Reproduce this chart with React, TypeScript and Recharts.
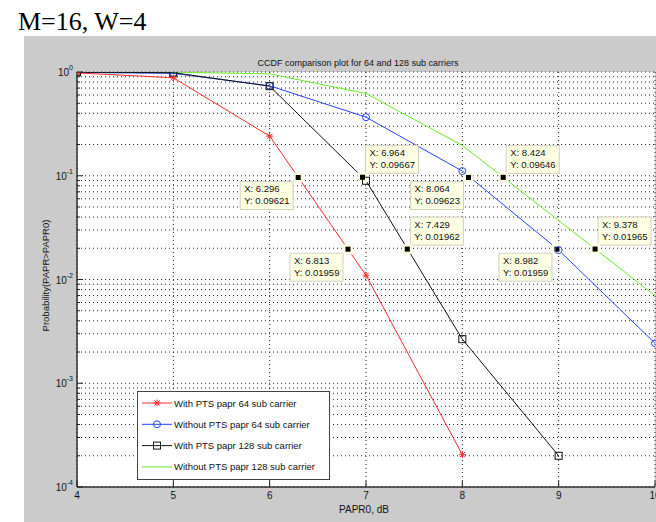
import React from "react"
import { LineChart, Line, XAxis, YAxis, CartesianGrid, ReferenceDot, Legend } from "recharts"

// PAPR0 in dB (x axis)
const papr0 = [4, 5, 6, 7, 8, 9, 10]
// CCDF values (null = no point)
const withPts64 = [0.98, 0.88, 0.241, 0.011, 0.000205, null, null]
const withoutPts64 = [0.99, 0.97, 0.736, 0.367, 0.111, 0.0192, 0.00243]
const withPts128 = [0.995, 0.985, 0.73, 0.0895, 0.00266, 0.0002, null]
const withoutPts128 = [1.0, 0.995, 0.96, 0.62, 0.196, 0.037, 0.007]

const seriesNames = [
  "With PTS papr 64 sub carrier",
  "Without PTS papr 64 sub carrier",
  "With PTS papr 128 sub carrier",
  "Without PTS papr 128 sub carrier",
]

const xTicks = [4, 5, 6, 7, 8, 9, 10]
const yTicks = [
  1e-4, 2e-4, 3e-4, 4e-4, 5e-4, 6e-4, 7e-4, 8e-4, 9e-4,
  1e-3, 2e-3, 3e-3, 4e-3, 5e-3, 6e-3, 7e-3, 8e-3, 9e-3,
  1e-2, 2e-2, 3e-2, 4e-2, 5e-2, 6e-2, 7e-2, 8e-2, 9e-2,
  1e-1, 2e-1, 3e-1, 4e-1, 5e-1, 6e-1, 7e-1, 8e-1, 9e-1,
  1,
]

// data tips shown on the plot
const tipX = [6.296, 6.964, 8.064, 7.429, 6.813, 8.424, 8.982, 9.378]
const tipY = [0.09621, 0.09667, 0.09623, 0.01962, 0.01959, 0.09646, 0.01959, 0.01965]
const tipXText = ["6.296", "6.964", "8.064", "7.429", "6.813", "8.424", "8.982", "9.378"]
const tipYText = ["0.09621", "0.09667", "0.09623", "0.01962", "0.01959", "0.09646", "0.01959", "0.01965"]
// where the box sits relative to its marker
const tipSide = ["bl", "ar", "bl", "ar", "bl", "ar", "bl", "ar"]

const chartData = papr0.map((x, i) => ({
  x,
  a: withPts64[i],
  b: withoutPts64[i],
  c: withPts128[i],
  d: withoutPts128[i],
}))

const FONT = '"Liberation Sans", Arial, sans-serif'
const RED = "#ff2a2a"
const BLUE = "#2244ff"
const BLACK = "#111111"
const GREEN = "#66ee22"

const Star = ({ cx, cy, color }: any) => {
  const s = 3.5
  return (
    <g stroke={color} strokeWidth={1}>
      <line x1={cx - s} y1={cy} x2={cx + s} y2={cy} />
      <line x1={cx} y1={cy - s} x2={cx} y2={cy + s} />
      <line x1={cx - s * 0.75} y1={cy - s * 0.75} x2={cx + s * 0.75} y2={cy + s * 0.75} />
      <line x1={cx - s * 0.75} y1={cy + s * 0.75} x2={cx + s * 0.75} y2={cy - s * 0.75} />
    </g>
  )
}

const Circ = ({ cx, cy, color }: any) => <circle cx={cx} cy={cy} r={3.5} fill="none" stroke={color} strokeWidth={1} />

const Sq = ({ cx, cy, color }: any) => (
  <rect x={cx - 3.5} y={cy - 3.5} width={7} height={7} fill="none" stroke={color} strokeWidth={1} />
)

const dotFn = (Comp: any, color: string) => (p: any) => {
  if (p.value == null || p.cy == null) return <g key={p.key ?? p.index} />
  return <Comp key={p.key ?? p.index} cx={p.cx} cy={p.cy} color={color} />
}

const YTick = (props: any) => {
  const { x, y, payload } = props
  const v = payload.value
  const lg = Math.log10(v)
  const exp = Math.round(lg)
  const major = Math.abs(lg - exp) < 1e-6
  const ax = x + 3
  return (
    <g>
      <line x1={ax} x2={ax + (major ? 6 : 3)} y1={y} y2={y} stroke="#222" />
      {major && (
        <text x={x - 1} y={y + 4} textAnchor="end" fontSize={10} fontFamily={FONT} fill="#111">
          <tspan>10</tspan>
          <tspan dy={-6} fontSize={7}>{exp}</tspan>
        </text>
      )}
    </g>
  )
}

const XTick = (props: any) => {
  const { x, y, payload } = props
  return (
    <g>
      <line x1={x} x2={x} y1={y} y2={y - 6} stroke="#222" />
      <text x={x} y={y + 12} textAnchor="middle" fontSize={10} fontFamily={FONT} fill="#111">
        {payload.value}
      </text>
    </g>
  )
}

const TipShape = ({ cx, cy, i }: any) => {
  const w = 53
  const h = 28
  const bx = tipSide[i] === "bl" ? cx - 5 - w : cx + 3
  const by = tipSide[i] === "bl" ? cy + 4 : cy - 4 - h
  return (
    <g>
      <rect x={bx} y={by} width={w} height={h} fill="#ffffe3" stroke="#cfcfc4" strokeWidth={1} />
      <text x={bx + 4} y={by + 11} fontSize={9.5} fontFamily={FONT} fill="#111">
        X: {tipXText[i]}
      </text>
      <text x={bx + 4} y={by + 23} fontSize={9.5} fontFamily={FONT} fill="#111">
        Y: {tipYText[i]}
      </text>
      <rect x={cx - 5} y={cy - 5} width={10} height={10} fill="#fbfbe0" />
      <rect x={cx - 2.5} y={cy - 2.5} width={5} height={5} fill="#000" />
    </g>
  )
}

const markers = [Star, Circ, Sq, null]
const colors = [RED, BLUE, BLACK, GREEN]

const LegendBox = () => (
  <svg width={193} height={89} style={{ display: "block" }}>
    <rect x={0.5} y={0.5} width={192} height={88} fill="#fff" stroke="#444" strokeWidth={1} />
    {seriesNames.map((name, i) => {
      const cy = 12 + i * 21.3
      const M = markers[i]
      return (
        <g key={name}>
          <line x1={5} x2={35} y1={cy} y2={cy} stroke={colors[i]} strokeWidth={1} />
          {M && <M cx={20} cy={cy} color={colors[i]} />}
          <text x={37} y={cy + 3.5} fontSize={9.5} fontFamily={FONT} fill="#111">
            {name}
          </text>
        </g>
      )
    })}
  </svg>
)

export default function App() {
  return (
    <div
      style={{
        position: "absolute",
        left: 0,
        top: 0,
        width: 656,
        height: 522,
        overflow: "hidden",
        background: "#fff",
      }}
    >
      <svg width={656} height={36} style={{ position: "absolute", left: 0, top: 0 }}>
        <text x={18} y={30} fontSize={26} fontFamily='"Liberation Serif", "Times New Roman", serif' fill="#000">
          M=16, W=4
        </text>
      </svg>
      <div style={{ position: "absolute", left: 24, top: 36, width: 640, height: 486, background: "#cbcbcb" }} />
      <div style={{ position: "absolute", left: 24, top: 36 }}>
        <LineChart
          width={651}
          height={486}
          data={chartData}
          margin={{ top: 36, right: 20, left: 0, bottom: 5 }}
        >
          <CartesianGrid
            fill="#ffffff"
            stroke="#222"
            strokeDasharray="1 3"
            strokeWidth={1}
          />
          <XAxis
            dataKey="x"
            type="number"
            domain={[4, 10]}
            ticks={xTicks}
            interval={0}
            tickSize={0}
            tickMargin={0}
            tick={<XTick />}
            axisLine={{ stroke: "#333", strokeWidth: 1.5 }}
            tickLine={false}
            height={30}
            allowDataOverflow
          />
          <XAxis
            xAxisId="top"
            orientation="top"
            dataKey="x"
            type="number"
            domain={[4, 10]}
            height={0}
            tick={false}
            tickLine={false}
            axisLine={{ stroke: "#333", strokeWidth: 1 }}
          />
          <YAxis
            scale="log"
            type="number"
            domain={[1e-4, 1]}
            ticks={yTicks}
            interval={0}
            tickSize={0}
            tickMargin={3}
            tick={<YTick />}
            axisLine={{ stroke: "#333", strokeWidth: 1.5 }}
            tickLine={false}
            width={53}
            allowDataOverflow
          />
          <Line dataKey="d" name={seriesNames[3]} stroke={GREEN} strokeWidth={1} dot={false} isAnimationActive={false} />
          <Line dataKey="b" name={seriesNames[1]} stroke={BLUE} strokeWidth={1} dot={dotFn(Circ, BLUE)} isAnimationActive={false} />
          <Line dataKey="c" name={seriesNames[2]} stroke={BLACK} strokeWidth={1} dot={dotFn(Sq, BLACK)} isAnimationActive={false} />
          <Line dataKey="a" name={seriesNames[0]} stroke={RED} strokeWidth={1} dot={dotFn(Star, RED)} isAnimationActive={false} />
          {tipX.map((tx, i) => (
            <ReferenceDot
              key={i}
              x={tx}
              y={tipY[i]}
              r={0}
              ifOverflow="visible"
              shape={(p: any) => <TipShape cx={p.cx} cy={p.cy} i={i} />}
            />
          ))}
          <Legend
            layout="vertical"
            align="center"
            verticalAlign="middle"
            wrapperStyle={{ left: 113, top: 355, width: 193, height: 89 }}
            content={() => <LegendBox />}
          />
        </LineChart>
      </div>
      <div
        style={{
          position: "absolute",
          left: 252,
          top: 58,
          width: 212,
          textAlign: "center",
          fontFamily: FONT,
          fontSize: 9,
          color: "#111",
          whiteSpace: "nowrap",
        }}
      >
        CCDF comparison plot for 64 and 128 sub carriers
      </div>
      <div
        style={{
          position: "absolute",
          left: 314,
          top: 504,
          width: 100,
          textAlign: "center",
          fontFamily: FONT,
          fontSize: 10,
          color: "#111",
        }}
      >
        PAPR0, dB
      </div>
      <div
        style={{
          position: "absolute",
          left: -15,
          top: 270,
          width: 120,
          textAlign: "center",
          fontFamily: FONT,
          fontSize: 9.5,
          color: "#111",
          whiteSpace: "nowrap",
          transform: "rotate(-90deg)",
        }}
      >
        Probability(PAPR&gt;PAPR0)
      </div>
    </div>
  )
}
